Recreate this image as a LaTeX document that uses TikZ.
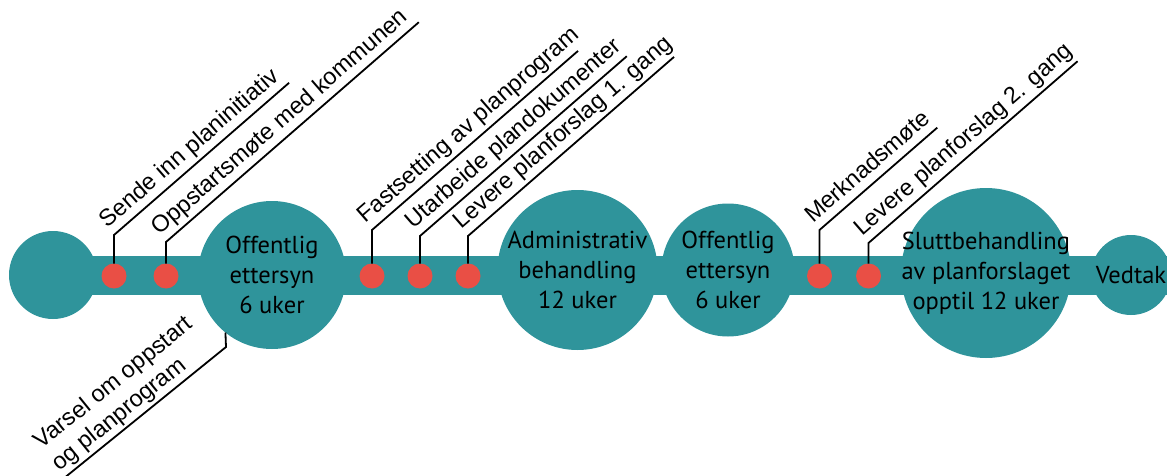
\documentclass[tikz,border=0pt]{standalone}
\usepackage{fontspec}
\setmainfont{Liberation Sans}
\newfontfamily\stagefont{PT Sans}
\definecolor{stageteal}{RGB}{47,148,155}
\definecolor{dotred}{RGB}{233,79,69}
\begin{document}
\begin{tikzpicture}[x=1pt,y=1pt,
  stage/.style={circle, fill=stageteal, inner sep=0pt, outer sep=0pt},
  stagetext/.style={font=\stagefont\fontsize{24.5}{30}\selectfont, align=center, text=black, inner sep=0pt},
  dotnode/.style={circle, fill=dotred, minimum size=25, inner sep=0pt, outer sep=0pt},
  leader/.style={draw=black, line width=1.8pt},
  milestone/.style={font=\fontsize{23.5}{27}\selectfont, rotate=41, anchor=base west, inner sep=0pt},
]
\useasboundingbox (0,0) rectangle (1167,475);
% band
\fill[stageteal] (53,180) rectangle (1180,219);
% stages
\node[stage, minimum size=88] (c0) at (53,200) {};
\node[stage, minimum size=148, label={[stagetext]center:Offentlig\\ettersyn\\6 uker}] (c1) at (272,200) {};
\node[stage, minimum size=160, label={[stagetext]center:Administrativ\\behandling\\12 uker}] (c2) at (577.5,205) {};
\node[stage, minimum size=133, label={[stagetext]center:Offentlig\\ettersyn\\6 uker}] (c3) at (728,205) {};
\node[stage, minimum size=170, label={[stagetext]center:Sluttbehandling\\av planforslaget\\opptil 12 uker}] (c4) at (986,202) {};
\node[stage, minimum size=80, label={[stagetext]center:Vedtak}] (c5) at (1131,200) {};
% milestone dots
\node[dotnode] (d1) at (114,199) {};
\node[dotnode] (d2) at (166,199) {};
\node[dotnode] (d3) at (372,199) {};
\node[dotnode] (d4) at (420,199) {};
\node[dotnode] (d5) at (468,199) {};
\node[dotnode] (d6) at (819.5,199) {};
\node[dotnode] (d7) at (868.5,199) {};
% corners and ends
\coordinate (k1) at (114,240);   \path (k1) ++(41:232) coordinate (e1);
\coordinate (k2) at (166,233);   \path (k2) ++(41:335) coordinate (e2);
\coordinate (k3) at (372,245);   \path (k3) ++(41:273) coordinate (e3);
\coordinate (k4) at (420,239);   \path (k4) ++(41:274) coordinate (e4);
\coordinate (k5) at (468,239);   \path (k5) ++(41:273) coordinate (e5);
\coordinate (k6) at (819.5,245); \path (k6) ++(41:156) coordinate (e6);
\coordinate (k7) at (868.5,232); \path (k7) ++(41:277) coordinate (e7);
\coordinate (k8) at (226,128);   \path (k8) ++(219:206) coordinate (e8);
% leaders
\draw[leader] (d1) -- (k1) -- (e1);
\draw[leader] (d2) -- (k2) -- (e2);
\draw[leader] (d3) -- (k3) -- (e3);
\draw[leader] (d4) -- (k4) -- (e4);
\draw[leader] (d5) -- (k5) -- (e5);
\draw[leader] (d6) -- (k6) -- (e6);
\draw[leader] (d7) -- (k7) -- (e7);
\draw[leader] (c1.231.6) -- (k8) -- (e8);
% labels
\path (k1) ++(41:-1) ++(131:9) node[milestone] (m1) {Sende inn planinitiativ};
\path (k2) ++(41:-1) ++(131:9) node[milestone] (m2) {Oppstartsmøte med kommunen};
\path (k3) ++(41:-1) ++(131:9) node[milestone] (m3) {Fastsetting av planprogram};
\path (k4) ++(41:-1) ++(131:9) node[milestone] (m4) {Utarbeide plandokumenter};
\path (k5) ++(41:-1) ++(131:9) node[milestone] (m5) {Levere planforslag 1. gang};
\path (k6) ++(41:-1) ++(131:9) node[milestone] (m6) {Merknadsmøte};
\path (k7) ++(41:-1) ++(131:9) node[milestone] (m7) {Levere planforslag 2. gang};
\path (e8) ++(39:-2) ++(129:3) node[font=\fontsize{23.5}{28}\selectfont, rotate=39, anchor=south west, align=left, inner sep=0pt] (m8) {Varsel om oppstart\\og planprogram};
\end{tikzpicture}
\end{document}
